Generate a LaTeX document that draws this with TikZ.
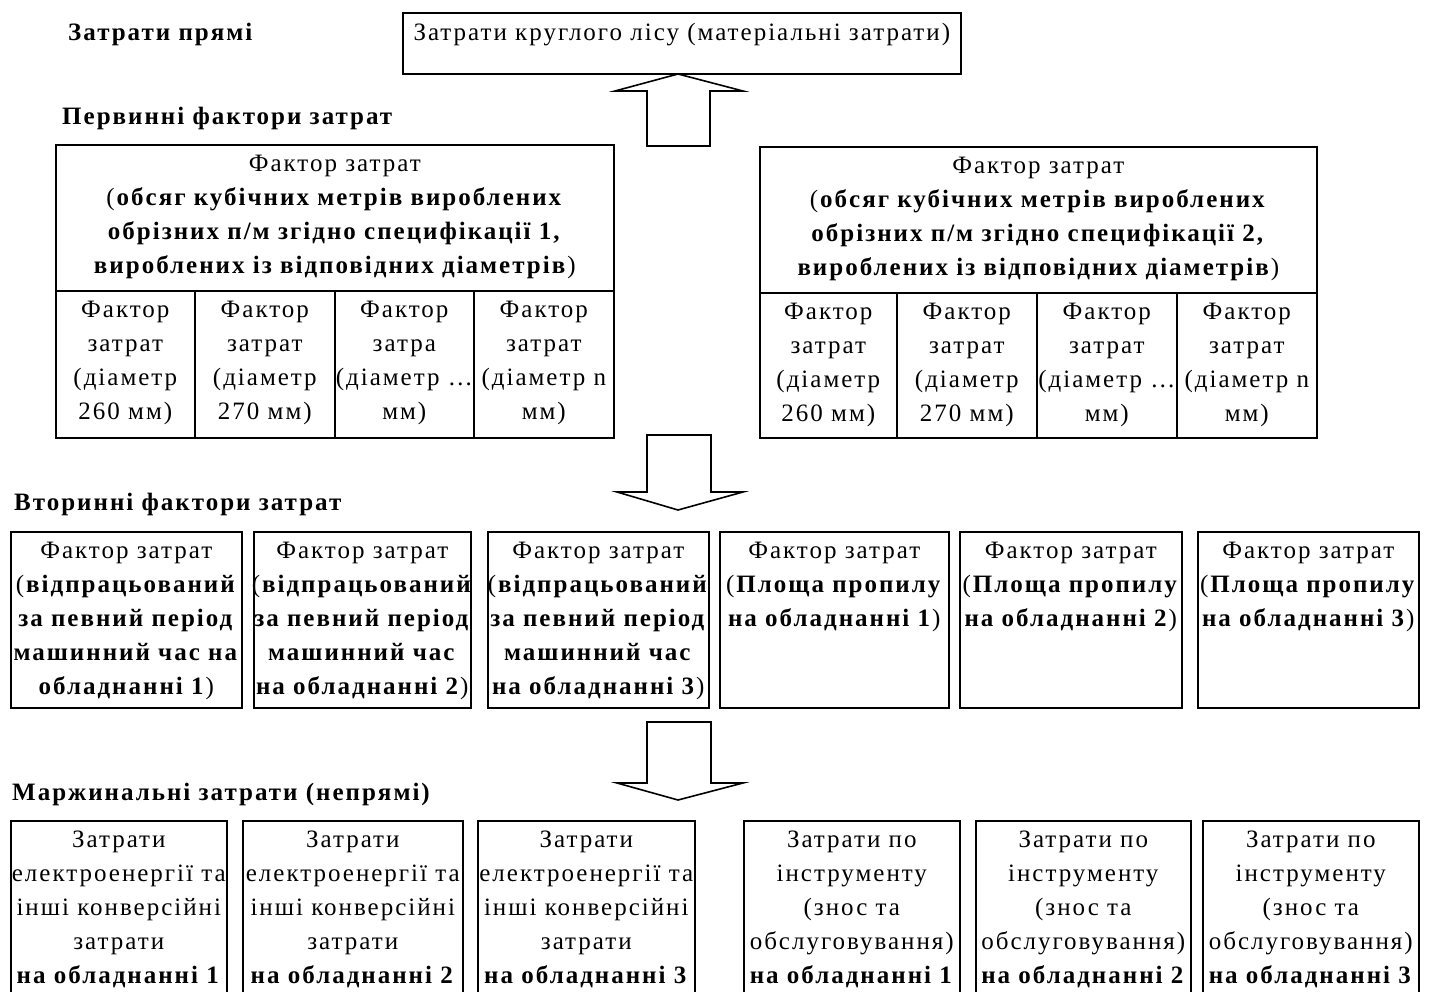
\documentclass[tikz,border=0pt]{standalone}
\usepackage{fontspec}
\newfontfamily\rf[LetterSpace=8]{Liberation Serif}
\tikzset{
  box/.style={draw, line width=1.6pt, inner sep=0pt, anchor=north west},
  txt/.style={anchor=north, inner sep=0pt, align=center, font=\rf\fontsize{25}{34}\selectfont},
  ttl/.style={anchor=base west, inner sep=0pt, font=\rf\bfseries\fontsize{25}{28}\selectfont},
  blockarrow/.style={draw, line width=1.6pt, fill=white, line join=miter}
}
\newcommand\mybox[6]{%
  \node[box, minimum width={#4pt-#2pt}, minimum height={#5pt-#3pt}] (#1) at (#2,#3) {};
  \node[txt] (#1t) at ([yshift=-11pt]#1.north) {#6};}
\begin{document}
\begin{tikzpicture}[x=1pt,y=-1pt]
\path[use as bounding box] (0,0) rectangle (1432,992);
\clip (0,0) rectangle (1432,992);
\fill[white] (0,0) rectangle (1432,992);

% titles
\node[ttl] (t1) at (68,41) {Затрати прямі};
\node[ttl] (t2) at (62,125) {Первинні фактори затрат};
\node[ttl] (t3) at (14,510) {Вторинні фактори затрат};
\node[ttl] (t4) at (12,800) {Маржинальні затрати (непрямі)};

% top box
\mybox{top}{402}{12}{960}{73}{Затрати круглого лісу (матеріальні затрати)}

% primary left
\mybox{pl}{55}{144}{613}{290}{Фактор затрат\\(\textbf{обсяг кубічних метрів вироблених}\\\textbf{обрізних п/м згідно специфікації 1,}\\\textbf{вироблених із відповідних діаметрів})}
\mybox{pla}{55}{290}{194}{437}{Фактор\\затрат\\(діаметр\\260 мм)}
\mybox{plb}{194}{290}{334}{437}{Фактор\\затрат\\(діаметр\\270 мм)}
\mybox{plc}{334}{290}{473}{437}{Фактор\\затра\\(діаметр …\\мм)}
\mybox{pld}{473}{290}{613}{437}{Фактор\\затрат\\(діаметр n\\мм)}

% primary right
\mybox{pr}{759}{146}{1316}{292}{Фактор затрат\\(\textbf{обсяг кубічних метрів вироблених}\\\textbf{обрізних п/м згідно специфікації 2,}\\\textbf{вироблених із відповідних діаметрів})}
\mybox{pra}{759}{292}{896}{437}{Фактор\\затрат\\(діаметр\\260 мм)}
\mybox{prb}{896}{292}{1036}{437}{Фактор\\затрат\\(діаметр\\270 мм)}
\mybox{prc}{1036}{292}{1176}{437}{Фактор\\затрат\\(діаметр …\\мм)}
\mybox{prd}{1176}{292}{1316}{437}{Фактор\\затрат\\(діаметр n\\мм)}

% secondary
\mybox{s1}{10}{531}{241}{707}{Фактор затрат\\(\textbf{відпрацьований}\\\textbf{за певний період}\\\textbf{машинний час на}\\\textbf{обладнанні 1})}
\mybox{s2}{253}{531}{470}{707}{Фактор затрат\\(\textbf{відпрацьований}\\\textbf{за певний період}\\\textbf{машинний час}\\\textbf{на обладнанні 2})}
\mybox{s3}{487}{531}{708}{707}{Фактор затрат\\(\textbf{відпрацьований}\\\textbf{за певний період}\\\textbf{машинний час}\\\textbf{на обладнанні 3})}
\mybox{s4}{719}{531}{948}{707}{Фактор затрат\\(\textbf{Площа пропилу}\\\textbf{на обладнанні 1})}
\mybox{s5}{959}{531}{1181}{707}{Фактор затрат\\(\textbf{Площа пропилу}\\\textbf{на обладнанні 2})}
\mybox{s6}{1197}{531}{1418}{707}{Фактор затрат\\(\textbf{Площа пропилу}\\\textbf{на обладнанні 3})}

% marginal
\mybox{m1}{10}{820}{226}{1010}{Затрати\\електроенергії та\\інші конверсійні\\затрати\\\textbf{на обладнанні 1}}
\mybox{m2}{242}{820}{462}{1010}{Затрати\\електроенергії та\\інші конверсійні\\затрати\\\textbf{на обладнанні 2}}
\mybox{m3}{477}{820}{694}{1010}{Затрати\\електроенергії та\\інші конверсійні\\затрати\\\textbf{на обладнанні 3}}
\mybox{m4}{743}{820}{959}{1010}{Затрати по\\інструменту\\(знос та\\обслуговування)\\\textbf{на обладнанні 1}}
\mybox{m5}{975}{820}{1190}{1010}{Затрати по\\інструменту\\(знос та\\обслуговування)\\\textbf{на обладнанні 2}}
\mybox{m6}{1202}{820}{1418}{1010}{Затрати по\\інструменту\\(знос та\\обслуговування)\\\textbf{на обладнанні 3}}

% block arrows
\draw[blockarrow] (647,146) -- (647,91) -- (615,91) -- (678,74) -- (743,91) -- (710,91) -- (710,146) -- cycle;
\draw[blockarrow] (647,435) -- (647,492) -- (617,492) -- (678,510) -- (743,492) -- (711,492) -- (711,435) -- cycle;
\draw[blockarrow] (647,722) -- (647,783) -- (617,783) -- (678,800) -- (743,783) -- (711,783) -- (711,722) -- cycle;
\end{tikzpicture}
\end{document}
